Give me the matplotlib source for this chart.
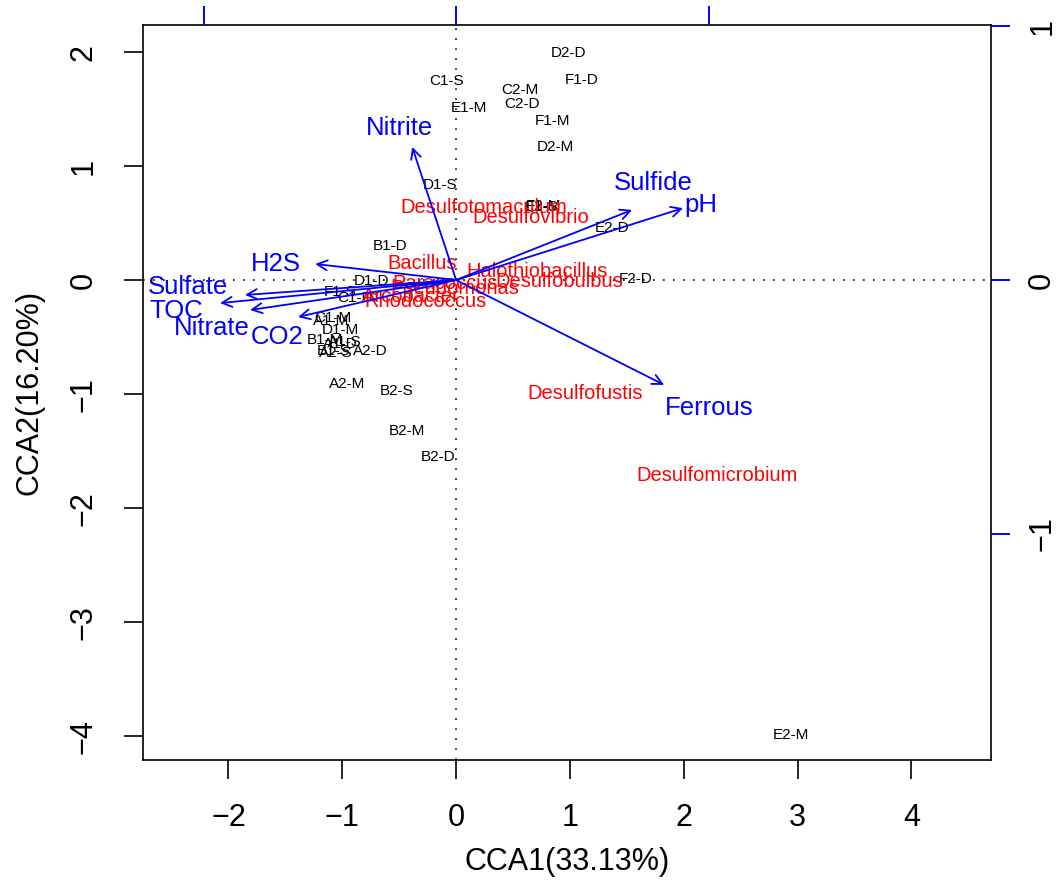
import matplotlib.pyplot as plt

plt.rcParams["font.family"] = ["Liberation Sans", "DejaVu Sans"]

# site scores (CCA1, CCA2)
sites = ["D2-D", "F1-D", "C1-S", "C2-M", "C2-D", "E1-M", "F1-M", "D2-M", "D1-S",
         "F2-M", "E1-S", "E2-D", "F2-D", "B1-D", "D1-D", "F1-S", "C1-D", "C1-M",
         "A1-M", "D1-M", "B1-M", "A1-S", "A1-D", "B1-S", "A2-S", "A2-D", "A2-M",
         "B2-S", "B2-M", "B2-D", "E2-M"]
site_x = [0.99, 1.10, -0.08, 0.56, 0.58, 0.11, 0.85, 0.87, -0.14,
          0.77, 0.75, 1.37, 1.58, -0.58, -0.74, -1.02, -0.89, -1.08,
          -1.10, -1.02, -1.15, -0.98, -1.02, -1.08, -1.06, -0.75, -0.96,
          -0.52, -0.43, -0.16, 2.94]
site_y = [1.99, 1.76, 1.75, 1.67, 1.55, 1.51, 1.40, 1.17, 0.84,
          0.65, 0.64, 0.46, 0.01, 0.30, -0.01, -0.10, -0.16, -0.33,
          -0.36, -0.44, -0.52, -0.54, -0.56, -0.62, -0.64, -0.62, -0.91,
          -0.97, -1.32, -1.55, -3.99]

# species scores
species = ["Desulfotomaculum", "Desulfovibrio", "Bacillus", "Halothiobacillus",
           "Desulfobulbus", "Paracoccus", "Pseudomonas", "Arcobacter",
           "Rhodococcus", "Desulfofustis", "Desulfomicrobium"]
sp_x = [0.24, 0.66, -0.30, 0.71, 0.91, -0.10, -0.01, -0.40, -0.27, 1.13, 2.29]
sp_y = [0.64, 0.55, 0.15, 0.08, -0.01, -0.03, -0.07, -0.14, -0.19, -0.99, -1.71]

# environmental biplot arrows (secondary scale)
env = ["Nitrite", "Sulfide", "pH", "Ferrous", "H2S", "Sulfate", "TOC", "Nitrate", "CO2"]
env_x = [-0.174, 0.697, 0.899, 0.824, -0.558, -0.836, -0.935, -0.816, -0.626]
env_y = [0.524, 0.276, 0.283, -0.413, 0.063, -0.059, -0.091, -0.118, -0.146]
lab_x = [-0.226, 0.780, 0.970, 1.002, -0.713, -1.061, -1.109, -0.966, -0.709]
lab_y = [0.598, 0.382, 0.295, -0.504, 0.063, -0.028, -0.122, -0.189, -0.224]

fig = plt.figure(figsize=(10.62, 8.83), dpi=100)
pos = [0.1347, 0.1393, 0.7985, 0.8324]
ax = fig.add_axes(pos)
ax.set_xlim(-2.75, 4.70)
ax.set_ylim(-4.21, 2.24)
ax.axhline(0, color="black", linestyle=(0, (1, 5)), linewidth=1.2)
ax.axvline(0, color="black", linestyle=(0, (1, 5)), linewidth=1.2)

for s, x, y in zip(sites, site_x, site_y):
    ax.text(x, y, s, fontsize=11, ha="center", va="center", color="black")
for s, x, y in zip(species, sp_x, sp_y):
    ax.text(x, y, s, fontsize=14.5, ha="center", va="center", color="red")

ax.set_xticks([-2, -1, 0, 1, 2, 3, 4])
ax.set_yticks([-4, -3, -2, -1, 0, 1, 2])
ax.tick_params(axis="both", labelsize=22, length=14, width=1.2, direction="out")
ax.tick_params(axis="x", pad=17)
ax.tick_params(axis="y", pad=18)
for t in ax.get_yticklabels():
    t.set_rotation(90)
    t.set_va("center")
ax.set_xlabel("CCA1(33.13%)", fontsize=22, labelpad=10)
ax.set_ylabel("CCA2(16.20%)", fontsize=22, labelpad=17)
for sp in ax.spines.values():
    sp.set_linewidth(1.2)

# secondary axes for the biplot arrows
ax2 = fig.add_axes(pos, frameon=False)
ax2.set_xlim(-1.240, 2.119)
ax2.set_ylim(-1.890, 1.004)
ax2.patch.set_visible(False)
for side in ["left", "bottom"]:
    ax2.spines[side].set_visible(False)
ax2.spines["top"].set_visible(True)
ax2.spines["right"].set_visible(True)
ax2.spines["top"].set_bounds(-1, 1)
ax2.spines["right"].set_bounds(-1, 1)
for side in ["top", "right"]:
    ax2.spines[side].set_color("blue")
    ax2.spines[side].set_linewidth(1.4)
ax2.xaxis.set_ticks_position("top")
ax2.yaxis.set_ticks_position("right")
ax2.set_xticks([-1, 0, 1])
ax2.set_yticks([-1, 0, 1])
ax2.set_xticklabels([])
ax2.set_yticklabels(["\u22121", "0", "1"], rotation=90, va="center")
ax2.tick_params(axis="both", colors="blue", length=14, width=1.4, labelsize=22,
                labelcolor="black")
ax2.tick_params(axis="y", pad=12)

for name, x, y, lx, ly in zip(env, env_x, env_y, lab_x, lab_y):
    ax2.annotate("", xy=(x, y), xytext=(0, 0),
                 arrowprops=dict(arrowstyle="->", color="blue", lw=1.3,
                                 mutation_scale=18, shrinkA=0, shrinkB=0))
    ax2.text(lx, ly, name, color="blue", fontsize=18.5, ha="center", va="center")

fig.savefig("out.png", dpi=100)
